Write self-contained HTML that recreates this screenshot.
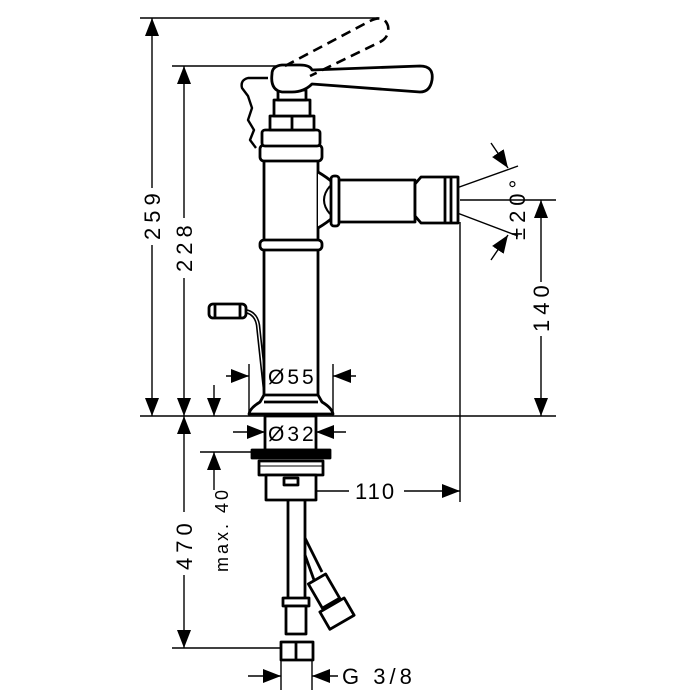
<!DOCTYPE html>
<html><head><meta charset="utf-8"><style>
html,body{margin:0;padding:0;background:#fff;}
svg{display:block;}
text{font-family:"Liberation Sans",sans-serif;fill:#000;}
</style></head><body>
<svg width="695" height="695" viewBox="0 0 695 695" xmlns="http://www.w3.org/2000/svg">
<defs>
<marker id="a" viewBox="0 0 18 14" refX="18" refY="7" markerWidth="18" markerHeight="14" markerUnits="userSpaceOnUse" orient="auto"><path d="M0,0 L18,7 L0,14 Z" fill="#000"/></marker>
</defs>
<g stroke="#000" fill="none" stroke-width="1.4">
<line x1="140" y1="18" x2="378" y2="18"/>
<line x1="172" y1="66" x2="285" y2="66"/>
<line x1="140" y1="416" x2="556" y2="416"/>
<line x1="172" y1="648" x2="285" y2="648"/>
<line x1="200" y1="452" x2="252" y2="452"/>
<line x1="460" y1="200" x2="556" y2="200"/>
<line x1="460" y1="222" x2="460" y2="502"/>
<line x1="249" y1="364" x2="249" y2="416"/>
<line x1="333" y1="364" x2="333" y2="416"/>
<line x1="281" y1="650" x2="281" y2="690"/>
<line x1="312" y1="650" x2="312" y2="690"/>
<line x1="152" y1="188" x2="152" y2="18" marker-end="url(#a)"/>
<line x1="152" y1="245" x2="152" y2="416" marker-end="url(#a)"/>
<line x1="184" y1="218" x2="184" y2="66" marker-end="url(#a)"/>
<line x1="184" y1="278" x2="184" y2="416" marker-end="url(#a)"/>
<line x1="214" y1="385" x2="214" y2="416" marker-end="url(#a)"/>
<line x1="184" y1="512" x2="184" y2="416" marker-end="url(#a)"/>
<line x1="184" y1="575" x2="184" y2="648" marker-end="url(#a)"/>
<line x1="214" y1="490" x2="214" y2="452" marker-end="url(#a)"/>
<line x1="541" y1="282" x2="541" y2="200" marker-end="url(#a)"/>
<line x1="541" y1="336" x2="541" y2="416" marker-end="url(#a)"/>
<line x1="349" y1="491" x2="297" y2="491" marker-end="url(#a)"/>
<line x1="404" y1="491" x2="460" y2="491" marker-end="url(#a)"/>
<line x1="248" y1="676" x2="281" y2="676" marker-end="url(#a)"/>
<line x1="338" y1="676" x2="312" y2="676" marker-end="url(#a)"/>
<line x1="226" y1="376" x2="249" y2="376" marker-end="url(#a)"/>
<line x1="356" y1="376" x2="333" y2="376" marker-end="url(#a)"/>
<line x1="233" y1="432" x2="265" y2="432" marker-end="url(#a)"/>
<line x1="346" y1="432" x2="316" y2="432" marker-end="url(#a)"/>
<line x1="423" y1="200" x2="518" y2="166"/>
<line x1="423" y1="200" x2="518" y2="236"/>
<line x1="491" y1="143" x2="508" y2="168" marker-end="url(#a)"/>
<line x1="491" y1="260" x2="508" y2="235" marker-end="url(#a)"/>
</g>
<g stroke="#000" fill="#fff" stroke-width="2.8" stroke-linejoin="round">
<path d="M245,311 Q256,313 258,325 L265,390" fill="none" stroke-width="4.5"/>
<path d="M245,311 Q256,313 258,325 L265,390" fill="none" stroke="#fff" stroke-width="1.3"/>
<rect x="209" y="304" width="37" height="14" rx="4"/>
<line x1="215" y1="304" x2="215" y2="318"/>
<line x1="240" y1="304" x2="240" y2="318"/>
<rect x="264" y="160" width="54" height="236"/>
<path d="M318,172 Q328,178 332,182 L332,218 Q328,222 318,228 Z" stroke="none"/>
<path d="M318,172 Q328,178 332,182 M318,228 Q328,222 332,218" fill="none"/>
<path d="M330,186 Q318,200 330,214" fill="none" stroke-width="2"/>
<rect x="338" y="180" width="77" height="42"/>
<rect x="331" y="176" width="8" height="50" rx="3"/>
<path d="M415,184 L421,177 L458,177 L458,223 L421,223 L415,216 Z"/>
<line x1="445" y1="177" x2="445" y2="223"/>
<line x1="451" y1="177" x2="451" y2="223"/>
<rect x="260" y="240" width="62" height="10" rx="4"/>
<path d="M264,395 L318,395 L322,402 Q332,408 333,414 L249,414 Q250,408 260,402 Z"/>
<line x1="264" y1="402" x2="318" y2="402"/>
<rect x="260" y="145" width="62" height="16" rx="4"/>
<rect x="262" y="130" width="58" height="16" rx="3"/>
<rect x="270" y="116" width="44" height="14"/>
<rect x="274" y="100" width="36" height="16"/>
<line x1="292" y1="116" x2="292" y2="130"/>
<rect x="278" y="90" width="28" height="10"/>
<path d="M272,74 Q272,66 282,65 L300,65 Q310,65 312,70 L420,66 Q434,66 432,80 Q430,92 420,92 L312,84 Q304,92 292,92 L282,92 Q270,90 272,74 Z"/>
<path d="M268,78 L248,78 Q240,80 242,88 L248,96 L252,108 L248,120 L254,130 L250,140 L256,148" fill="none" stroke-width="2.4"/>
</g>
<g stroke="#000" fill="none" stroke-width="2.6" stroke-dasharray="10,6">
<path d="M285,66 L370,21 Q384,14 388,26 Q390,38 378,43 L310,76"/>
</g>
<g stroke="#000" fill="#fff" stroke-width="2.8" stroke-linejoin="round">
<rect x="265" y="416" width="51" height="34"/>
<rect x="252" y="450" width="78" height="8" fill="#000"/>
<rect x="259" y="461" width="64" height="14"/>
<line x1="259" y1="466" x2="323" y2="466" stroke-width="1"/>
<rect x="266" y="475" width="50" height="25"/>
<rect x="284" y="478" width="14" height="7"/>
<line x1="288" y1="500" x2="288" y2="600"/>
<line x1="305" y1="500" x2="305" y2="600"/>
<line x1="305" y1="538" x2="322" y2="572"/>
<line x1="305" y1="555" x2="314" y2="580"/>
<rect x="283" y="598" width="26" height="8"/>
<rect x="286" y="606" width="20" height="28"/>
<rect x="281" y="642" width="32" height="18"/>
<line x1="296" y1="642" x2="296" y2="660"/>
<g transform="translate(328,598) rotate(-30)">
<rect x="-10" y="-22" width="20" height="28"/>
<rect x="-14" y="8" width="28" height="20"/>
</g>
</g>
<g font-size="22" letter-spacing="5">
<text transform="translate(160,240) rotate(-90)">259</text>
<text transform="translate(192,272) rotate(-90)">228</text>
<text transform="translate(192,570) rotate(-90)">470</text>
<text transform="translate(228,572) rotate(-90)" font-size="18" letter-spacing="3">max. 40</text>
<text transform="translate(549,332) rotate(-90)">140</text>
<text transform="translate(525,240) rotate(-90)">±20°</text>
<text x="268" y="384" font-size="21" letter-spacing="3">Ø55</text>
<text x="268" y="441" font-size="21" letter-spacing="3">Ø32</text>
<text x="355" y="499" letter-spacing="2">110</text>
<text x="342" y="684" letter-spacing="4">G 3/8</text>
</g>
</svg>
</body></html>
